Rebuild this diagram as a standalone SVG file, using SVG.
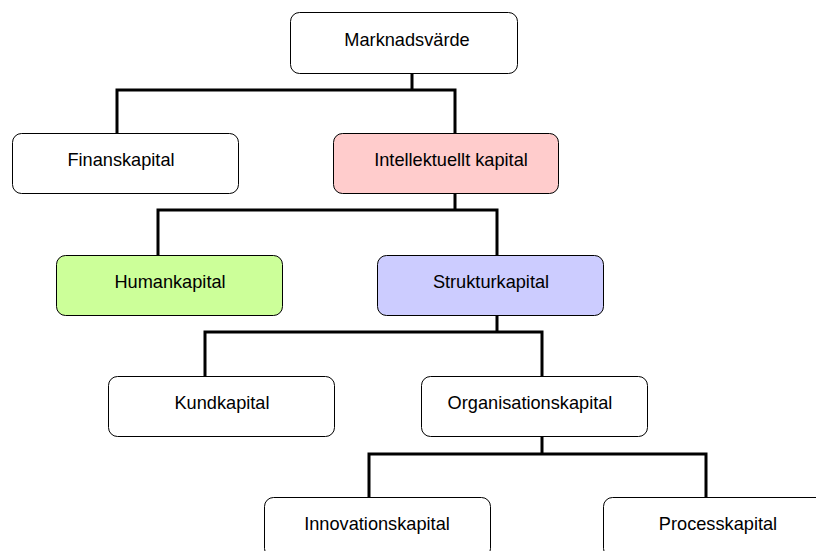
<svg xmlns="http://www.w3.org/2000/svg" width="816" height="551" viewBox="0 0 816 551">
  <style>
    .box { stroke: #000; stroke-width: 1; }
    .plain { fill: #fff; }
    .pink { fill: #ffcccc; }
    .green { fill: #ccff99; }
    .blue { fill: #ccccff; }
    .label { font-family: "Liberation Sans", Arial, sans-serif; font-size: 18.2px; fill: #000; text-anchor: middle; }
    .conn { fill: none; stroke: #000; stroke-width: 3; stroke-linejoin: miter; stroke-linecap: butt; }
  </style>
  <rect width="816" height="551" fill="#fff"/>

  <!-- tree connectors -->
  <g id="connectors">
    <path class="conn" d="M412 73 V90 M117 133 V90 H455 V133"/>
    <path class="conn" d="M455 193 V210 M158 255 V210 H497 V255"/>
    <path class="conn" d="M497 315 V332 M205 376 V332 H542 V376"/>
    <path class="conn" d="M542 436 V454 M369 497 V454 H706 V497"/>
  </g>

  <g id="marknadsvarde">
    <rect class="box plain" x="290.5" y="12.5" width="227" height="61" rx="9"/>
    <text class="label" x="407" y="45.5">Marknadsvärde</text>
  </g>
  <g id="finanskapital">
    <rect class="box plain" x="12.5" y="133.5" width="226" height="60" rx="9"/>
    <text class="label" x="121" y="166">Finanskapital</text>
  </g>
  <g id="intellektuellt">
    <rect class="box pink" x="333.5" y="133.5" width="225" height="60" rx="9"/>
    <text class="label" x="451" y="166">Intellektuellt kapital</text>
  </g>
  <g id="humankapital">
    <rect class="box green" x="56.5" y="255.5" width="226" height="60" rx="9"/>
    <text class="label" x="170" y="288">Humankapital</text>
  </g>
  <g id="strukturkapital">
    <rect class="box blue" x="377.5" y="255.5" width="226" height="60" rx="9"/>
    <text class="label" x="491" y="288">Strukturkapital</text>
  </g>
  <g id="kundkapital">
    <rect class="box plain" x="108.5" y="376.5" width="226" height="60" rx="9"/>
    <text class="label" x="222" y="409">Kundkapital</text>
  </g>
  <g id="organisationskapital">
    <rect class="box plain" x="421.5" y="376.5" width="226" height="60" rx="9"/>
    <text class="label" x="530" y="409">Organisationskapital</text>
  </g>
  <g id="innovationskapital">
    <rect class="box plain" x="264.5" y="497.5" width="226" height="60" rx="9"/>
    <text class="label" x="377" y="530">Innovationskapital</text>
  </g>
  <g id="processkapital">
    <rect class="box plain" x="603.5" y="497.5" width="226" height="60" rx="9"/>
    <text class="label" x="718" y="530">Processkapital</text>
  </g>
</svg>
